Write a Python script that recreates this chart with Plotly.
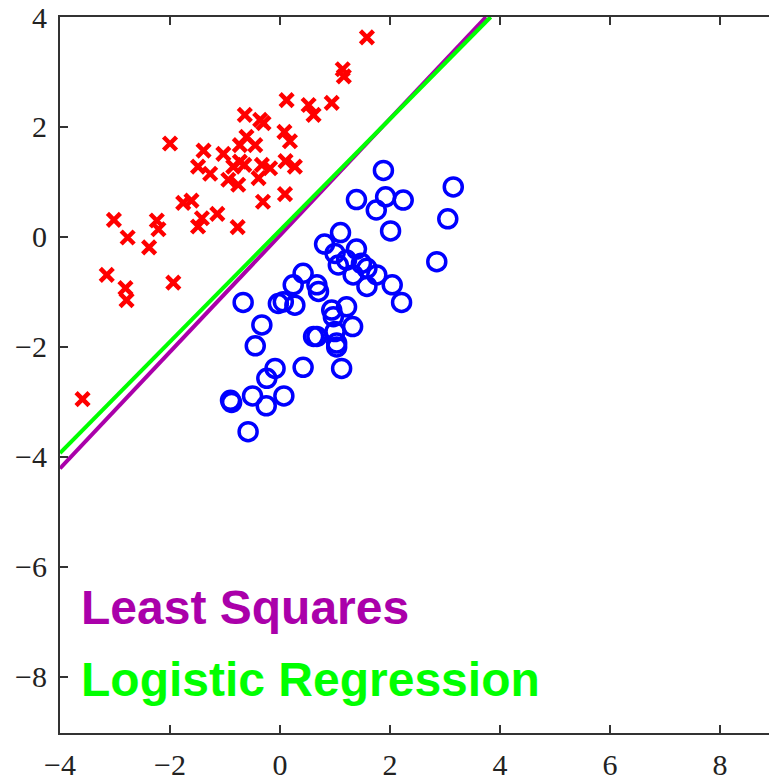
import plotly.graph_objects as go

# Class 1 (red crosses)
red_x = [-3.02, -2.77, -2.38, -2.24, -2.21, -2.00, -1.76, -1.61, -1.49, -1.42,
         -1.14, -1.49, -1.39, -1.27, -1.03, -0.94, -0.85, -0.76, -0.73, -0.65,
         -0.77, -0.64, -0.73, -0.61, -0.45, -0.36, -0.30, -0.33, -0.39, -0.31,
         -0.18, 0.12, 0.08, 0.18, 0.10, 0.27, 0.09, -3.15, -2.81, -2.79,
         -1.94, -3.59, 1.58, 1.14, 1.16, 0.52, 0.61, 0.94]
red_y = [0.31, -0.01, -0.19, 0.30, 0.14, 1.70, 0.62, 0.66, 0.19, 0.34,
         0.42, 1.28, 1.57, 1.15, 1.51, 1.04, 1.28, 0.95, 1.37, 1.31,
         0.18, 2.22, 1.67, 1.82, 1.67, 2.13, 2.07, 1.31, 1.07, 0.64,
         1.25, 2.49, 1.91, 1.74, 1.38, 1.28, 0.78, -0.69, -0.93, -1.15,
         -0.83, -2.95, 3.63, 3.05, 2.92, 2.40, 2.22, 2.44]

# Class 2 (blue circles)
blue_x = [1.88, 3.15, 1.39, 1.92, 2.24, 1.75, 3.05, 2.01, 2.85, 1.10,
          0.81, 1.39, 1.00, 1.21, 1.06, 1.48, 1.58, 1.76, 1.33, 1.58,
          2.04, 2.21, 0.42, 0.24, 0.67, 0.70, -0.67, -0.03, 0.27, 0.06,
          -0.33, 0.94, 1.21, 0.97, 1.32, -0.45, 0.67, 0.61, 1.00, 1.03,
          1.03, 1.12, 0.42, -0.09, -0.24, 0.07, -0.50, -0.88, -0.90, -0.25,
          -0.58]
blue_y = [1.21, 0.91, 0.68, 0.73, 0.67, 0.49, 0.33, 0.11, -0.45, 0.08,
          -0.13, -0.22, -0.30, -0.42, -0.51, -0.48, -0.57, -0.69, -0.69, -0.90,
          -0.87, -1.19, -0.66, -0.87, -0.87, -0.99, -1.19, -1.21, -1.24, -1.18,
          -1.60, -1.33, -1.27, -1.45, -1.63, -1.98, -1.81, -1.81, -1.72, -1.93,
          -2.00, -2.39, -2.37, -2.39, -2.57, -2.89, -2.89, -3.01, -2.97, -3.07,
          -3.54]

# Decision boundaries (end points)
ls_x = [-4.0, 3.745]
ls_y = [-4.21, 4.0]
lr_x = [-4.0, 3.83]
lr_y = [-3.93, 4.0]

x_ticks = [-4, -2, 0, 2, 4, 6, 8]
y_ticks = [-8, -6, -4, -2, 0, 2, 4]

PURPLE = "#AA00AA"
GREEN = "#00FF00"

fig = go.Figure()
fig.add_trace(go.Scatter(x=red_x, y=red_y, mode="markers",
                         marker=dict(symbol="x-thin", size=13,
                                     line=dict(color="#FF0000", width=4.5)),
                         showlegend=False))
fig.add_trace(go.Scatter(x=blue_x, y=blue_y, mode="markers",
                         marker=dict(symbol="circle-open", size=18, color="#0000FF",
                                     line=dict(color="#0000FF", width=3.5)),
                         showlegend=False))
fig.add_trace(go.Scatter(x=ls_x, y=ls_y, mode="lines",
                         line=dict(color=PURPLE, width=4), showlegend=False))
fig.add_trace(go.Scatter(x=lr_x, y=lr_y, mode="lines",
                         line=dict(color=GREEN, width=4), showlegend=False))

fig.add_annotation(x=-3.66, y=-6.73, xref="x", yref="y", text="<b>Least Squares</b>",
                   showarrow=False, xanchor="left", yanchor="middle",
                   font=dict(family="Liberation Sans, Arial, sans-serif", size=48, color=PURPLE))
fig.add_annotation(x=-3.66, y=-8.04, xref="x", yref="y", text="<b>Logistic Regression</b>",
                   showarrow=False, xanchor="left", yanchor="middle",
                   font=dict(family="Liberation Sans, Arial, sans-serif", size=48, color=GREEN))

axis_font = dict(family="Liberation Serif, Times New Roman, serif", size=30, color="#222222")
fig.update_layout(
    width=769, height=781,
    margin=dict(l=60, r=0, t=17, b=48),
    paper_bgcolor="white", plot_bgcolor="white",
    hovermode=False,
    xaxis=dict(range=[-4, 8.89], tickvals=x_ticks, showgrid=False, zeroline=False,
               showline=True, linecolor="#333333", linewidth=2, mirror="ticks",
               ticks="inside", ticklen=8, tickwidth=2, tickcolor="#333333",
               tickfont=axis_font, ticklabelstandoff=4),
    yaxis=dict(range=[-9.02, 4], tickvals=y_ticks, showgrid=False, zeroline=False,
               showline=True, linecolor="#333333", linewidth=2,
               ticks="inside", ticklen=8, tickwidth=2, tickcolor="#333333",
               tickfont=axis_font, ticklabelstandoff=5),
)

# remove the browser's default page margin so the figure sits at the window's corner
fig.write_html("out.html",
               config={"displayModeBar": False},
               post_script="document.body.style.margin='0px';document.body.style.overflow='hidden';")
